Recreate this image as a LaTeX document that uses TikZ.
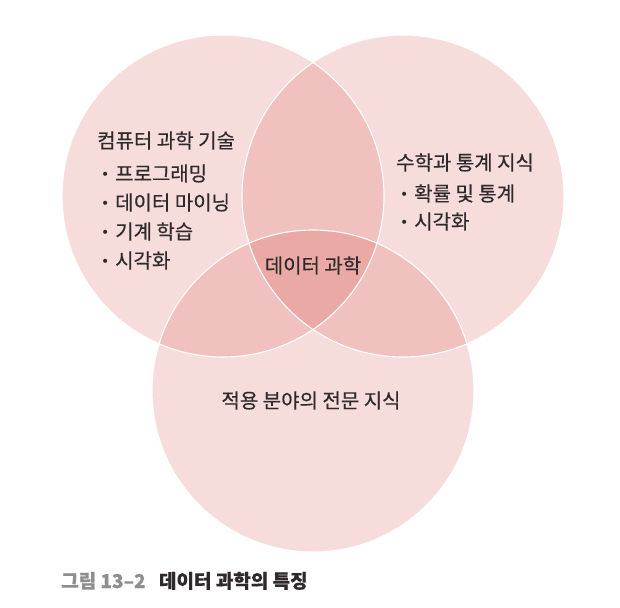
\documentclass[tikz,border=0pt]{standalone}
\usepackage{fontspec}
\setmainfont{Noto Sans CJK KR}[AutoFakeBold=0.4]
\newfontfamily\labelfont{Noto Sans CJK KR}[FakeBold=0.4]
\newfontfamily\bulletfont{DejaVu Sans}
\usetikzlibrary{positioning}
\definecolor{vennlight}{HTML}{F7DCDC}
\definecolor{vennmid}{HTML}{F1C1C0}
\definecolor{venndark}{HTML}{EBA9A6}
\definecolor{inktext}{HTML}{2E2A2B}
\definecolor{capgray}{HTML}{8E8E8E}
\newcommand{\vbul}{\makebox[14pt][l]{\raisebox{1.5pt}{\bulletfont\fontsize{14}{14}\selectfont •}}}

\begin{document}
\begin{tikzpicture}[x=1pt, y=-1pt,
  label/.style={inner sep=0pt, text=inktext, font=\labelfont\fontsize{20}{24}\selectfont},
  item/.style={label, anchor=base west},
  capline/.style={item, font=\labelfont\fontsize{19}{22}\selectfont\bfseries},
  rim/.style={draw=white, line width=1.1pt},
]
\useasboundingbox (0,0) rectangle (620,607);

% ---- circle centres ----
\coordinate (cs) at (223,196);
\coordinate (ms) at (403,196);
\coordinate (ap) at (313,391);
\def\rad{161}

% ---- single areas ----
\foreach \c in {cs,ms,ap}
  \fill[vennlight] (\c) circle (\rad);

% ---- pairwise overlaps ----
\begin{scope}
  \clip (cs) circle (\rad);
  \fill[vennmid] (ms) circle (\rad);
  \fill[vennmid] (ap) circle (\rad);
\end{scope}
\begin{scope}
  \clip (ms) circle (\rad);
  \fill[vennmid] (ap) circle (\rad);
\end{scope}

% ---- triple overlap ----
\begin{scope}
  \clip (cs) circle (\rad);
  \clip (ms) circle (\rad);
  \fill[venndark] (ap) circle (\rad);
\end{scope}

% ---- white rims ----
\foreach \c in {cs,ms,ap}
  \draw[rim] (\c) circle (\rad);

% ---- computer science ----
\node[item] (cshead) at (97,148) {컴퓨터 과학 기술};
\foreach \txt [count=\i from 0] in {프로그래밍, 데이터 마이닝, 기계 학습, 시각화}
  \node[item] (cs\i) at (101,181+29*\i) {\vbul\txt};

% ---- math and statistics ----
\node[item] (mshead) at (396,170) {수학과 통계 지식};
\foreach \txt [count=\i from 0] in {확률 및 통계, 시각화}
  \node[item] (ms\i) at (400,201+28*\i) {\vbul\txt};

% ---- centre and domain ----
\node[label, anchor=base] (dsci) at (313,273) {데이터 과학};
\node[label, anchor=base] (domain) at (311,408) {적용 분야의 전문 지식};

% ---- caption ----
\node[capline, text=capgray] (capnum) at (61,588) {그림 13–2};
\node[capline, right=13pt of capnum.base east, anchor=base west] (captxt) {데이터 과학의 특징};

\end{tikzpicture}
\end{document}
